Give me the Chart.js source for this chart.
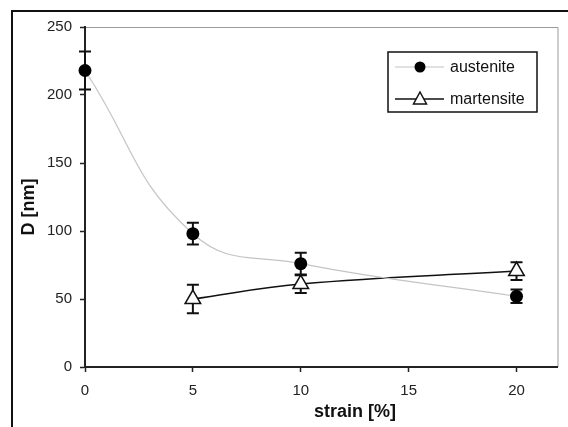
<!DOCTYPE html>
<html><head><meta charset="utf-8">
<script src="https://cdn.jsdelivr.net/npm/chart.js@4/dist/chart.umd.min.js"></script>
<style>html,body{margin:0;padding:0;background:#fff;overflow:hidden}#wrap{width:568px;height:427px;position:relative}</style>
</head><body><div id="wrap"><canvas id="c" width="568" height="427"></canvas></div>
<script>
const austeniteStrain = [0, 5, 10, 20];
const austeniteD = [218, 98, 76, 52];
const austeniteErr = [14, 8, 8, 5];
const martensiteStrain = [5, 10, 20];
const martensiteD = [50, 61, 70.5];
const martensiteErr = [10.5, 6.5, 6.5];
const xTicks = [0, 5, 10, 15, 20];
const yTicks = [0, 50, 100, 150, 200, 250];
const seriesNames = ['austenite', 'martensite'];
const xTitle = 'strain [%]';
const yTitle = 'D [nm]';

const errs = [austeniteErr, martensiteErr];

const helperPlugin = {
  id: 'helper',
  beforeDraw(chart) {
    const ctx = chart.ctx, a = chart.chartArea;
    ctx.save();
    ctx.fillStyle = '#fff';
    ctx.fillRect(0, 0, chart.width, chart.height);
    ctx.strokeStyle = '#111';
    ctx.lineWidth = 2;
    ctx.strokeRect(12, 11, 700, 600);
    ctx.strokeStyle = '#9a9a9a';
    ctx.lineWidth = 1;
    ctx.beginPath();
    ctx.moveTo(a.left, a.top + 0.5);
    ctx.lineTo(a.right + 0.5, a.top + 0.5);
    ctx.lineTo(a.right + 0.5, a.bottom);
    ctx.stroke();
    ctx.restore();
  },
  beforeDatasetsDraw(chart) {
    const ctx = chart.ctx, xs = chart.scales.x, ys = chart.scales.y;
    ctx.save();
    ctx.strokeStyle = '#111';
    ctx.lineWidth = 2;
    chart.data.datasets.forEach((ds, i) => {
      ds.data.forEach((p, j) => {
        const e = errs[i][j];
        const x = xs.getPixelForValue(p.x);
        const t = ys.getPixelForValue(p.y + e), b = ys.getPixelForValue(p.y - e);
        ctx.beginPath();
        ctx.moveTo(x, t); ctx.lineTo(x, b);
        ctx.moveTo(x - 6, t); ctx.lineTo(x + 6, t);
        ctx.moveTo(x - 6, b); ctx.lineTo(x + 6, b);
        ctx.stroke();
      });
    });
    ctx.restore();
  },
  afterDraw(chart) {
    const ctx = chart.ctx;
    ctx.save();
    // legend
    ctx.strokeStyle = '#111'; ctx.lineWidth = 1.5;
    ctx.strokeRect(388, 52, 149, 60);
    ctx.font = '16px "Liberation Sans", Arial, sans-serif';
    ctx.fillStyle = '#111'; ctx.textBaseline = 'middle'; ctx.textAlign = 'left';
    // row 1
    ctx.strokeStyle = '#c4c4c4'; ctx.lineWidth = 1.2;
    ctx.beginPath(); ctx.moveTo(395, 67); ctx.lineTo(444, 67); ctx.stroke();
    ctx.fillStyle = '#000';
    ctx.beginPath(); ctx.arc(420, 67, 5.5, 0, Math.PI * 2); ctx.fill();
    ctx.fillStyle = '#111';
    ctx.fillText(seriesNames[0], 450, 68);
    // row 2
    ctx.strokeStyle = '#111'; ctx.lineWidth = 1.5;
    ctx.beginPath(); ctx.moveTo(395, 99); ctx.lineTo(444, 99); ctx.stroke();
    ctx.beginPath(); ctx.moveTo(420, 92); ctx.lineTo(426.5, 104); ctx.lineTo(413.5, 104); ctx.closePath();
    ctx.fillStyle = '#fff'; ctx.fill(); ctx.stroke();
    ctx.fillStyle = '#111';
    ctx.fillText(seriesNames[1], 450, 100);
    // axis titles
    ctx.font = 'bold 18px "Liberation Sans", Arial, sans-serif';
    ctx.textAlign = 'center';
    ctx.fillText(xTitle, 355, 412);
    ctx.translate(29, 207); ctx.rotate(-Math.PI / 2);
    ctx.fillText(yTitle, 0, 0);
    ctx.restore();
  }
};

const tickFont = { family: '"Liberation Sans", Arial, sans-serif', size: 15 };

new Chart(document.getElementById('c'), {
  type: 'line',
  data: {
    datasets: [
      {
        label: seriesNames[0],
        data: austeniteStrain.map((x, i) => ({ x, y: austeniteD[i] })),
        borderColor: '#c4c4c4', borderWidth: 1.2, tension: 0.45, clip: false,
        pointStyle: 'circle', pointRadius: 6.5, pointBackgroundColor: '#000', pointBorderColor: '#000', pointBorderWidth: 0,
        fill: false
      },
      {
        label: seriesNames[1],
        data: martensiteStrain.map((x, i) => ({ x, y: martensiteD[i] })),
        borderColor: '#111', borderWidth: 1.5, tension: 0.4, clip: false,
        pointStyle: 'triangle', pointRadius: 9, pointBackgroundColor: '#fff', pointBorderColor: '#111', pointBorderWidth: 1.5,
        fill: false
      }
    ]
  },
  options: {
    responsive: false, animation: false, devicePixelRatio: 1,
    layout: { padding: { top: 27, right: 6, left: 0, bottom: 0 } },
    plugins: { legend: { display: false }, tooltip: { enabled: false } },
    scales: {
      x: {
        type: 'linear', min: 0, max: 21.9,
        afterBuildTicks: s => { s.ticks = xTicks.map(v => ({ value: v })); },
        afterFit: s => { s.height = 60; },
        grid: { drawOnChartArea: false, tickLength: 5, tickColor: '#222', tickWidth: 1.5 },
        border: { color: '#222', width: 2 },
        ticks: { font: tickFont, color: '#222', padding: 10, maxRotation: 0, autoSkip: false }
      },
      y: {
        type: 'linear', min: 0, max: 250,
        afterBuildTicks: s => { s.ticks = yTicks.map(v => ({ value: v })); },
        afterFit: s => { s.width = 85; },
        grid: { drawOnChartArea: false, tickLength: 5, tickColor: '#222', tickWidth: 1.5 },
        border: { color: '#222', width: 2 },
        ticks: { font: tickFont, color: '#222', padding: 8, autoSkip: false }
      }
    }
  },
  plugins: [helperPlugin]
});
</script></body></html>
